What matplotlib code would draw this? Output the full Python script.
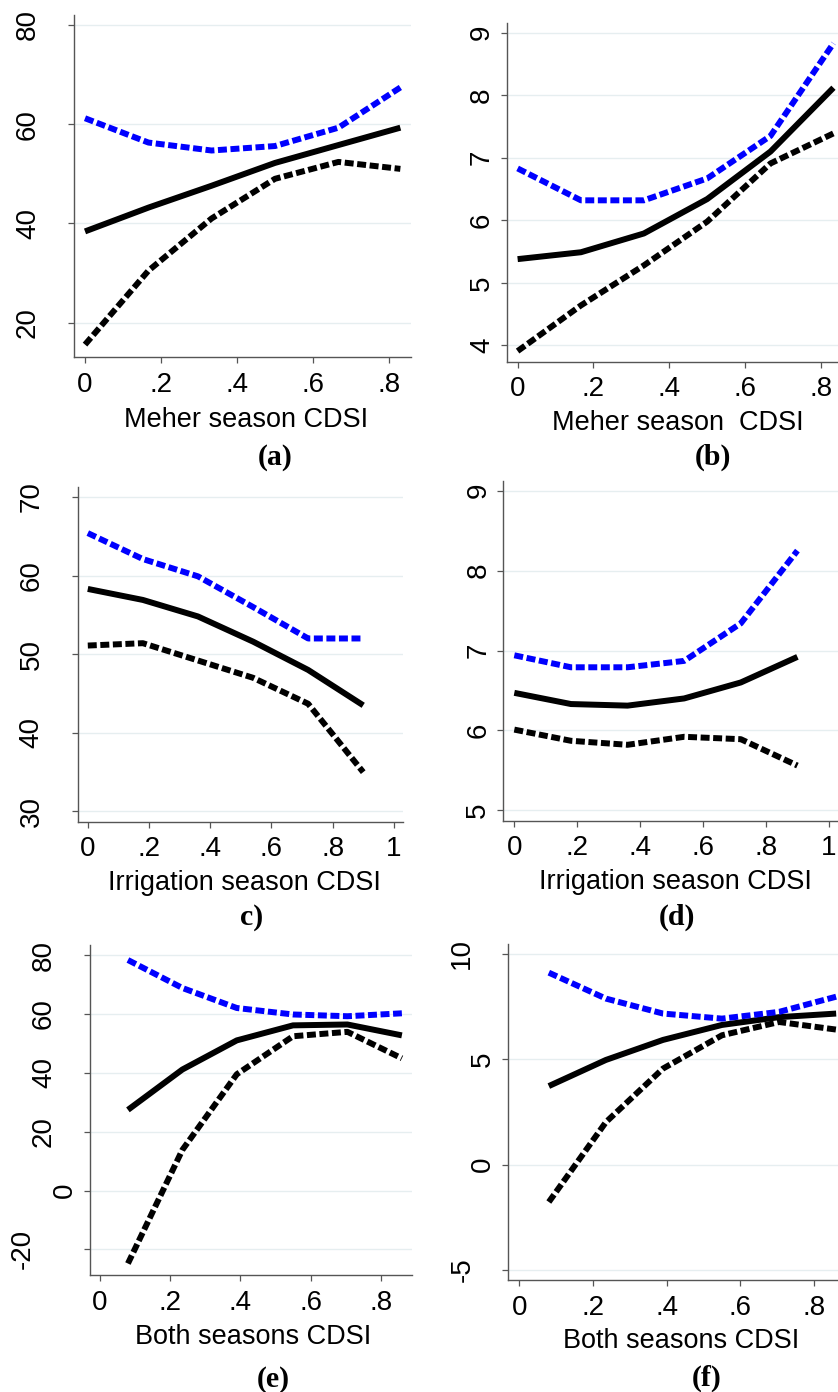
import matplotlib
matplotlib.use("Agg")
import matplotlib.pyplot as plt
import matplotlib.transforms as mtransforms

plt.rcParams['font.family'] = ['Liberation Sans', 'DejaVu Sans']

# values: upper CI (blue), fitted, lower CI
xa = [0, 0.167, 0.333, 0.5, 0.667, 0.83]
a_upper = [61.2, 56.3, 54.7, 55.6, 59.3, 67.4]
a_fit = [38.4, 43.2, 47.6, 52.2, 55.8, 59.3]
a_lower = [15.6, 30.5, 41.0, 49.0, 52.4, 51.0]

xb = [0, 0.167, 0.333, 0.5, 0.667, 0.833]
b_upper = [6.83, 6.32, 6.32, 6.67, 7.35, 8.83]
b_fit = [5.38, 5.49, 5.79, 6.34, 7.10, 8.12]
b_lower = [3.91, 4.64, 5.28, 5.98, 6.91, 7.39]

xc = [0, 0.18, 0.36, 0.54, 0.72, 0.9]
c_upper = [65.4, 62.1, 59.9, 56.0, 52.0, 52.0]
c_fit = [58.3, 56.9, 54.8, 51.6, 48.0, 43.5]
c_lower = [51.1, 51.4, 49.2, 47.0, 43.7, 35.0]

xd = [0, 0.18, 0.36, 0.54, 0.72, 0.9]
d_upper = [6.94, 6.79, 6.79, 6.87, 7.34, 8.25]
d_fit = [6.47, 6.33, 6.31, 6.40, 6.60, 6.92]
d_lower = [6.01, 5.87, 5.82, 5.92, 5.89, 5.56]

xe = [0.08, 0.235, 0.39, 0.55, 0.705, 0.86]
e_upper = [78.3, 68.8, 62.0, 59.8, 59.2, 60.2]
e_fit = [27.4, 41.1, 51.0, 56.1, 56.4, 52.7]
e_lower = [-24.8, 13.8, 39.5, 52.4, 53.9, 44.9]

xf = [0.08, 0.235, 0.39, 0.55, 0.705, 0.86]
f_upper = [9.11, 7.88, 7.17, 6.93, 7.25, 7.97]
f_fit = [3.73, 4.97, 5.92, 6.63, 7.00, 7.17]
f_lower = [-1.77, 2.02, 4.56, 6.14, 6.77, 6.41]

xlabels = ["Meher season CDSI", "Meher season  CDSI",
           "Irrigation season CDSI", "Irrigation season CDSI",
           "Both seasons CDSI", "Both seasons CDSI"]
letters = ["(a)", "(b)", "c)", "(d)", "(e)", "(f)"]

x_ticks_08 = [0, 0.2, 0.4, 0.6, 0.8]
x_ticks_1 = [0, 0.2, 0.4, 0.6, 0.8, 1]
x_labels_08 = ["0", ".2", ".4", ".6", ".8"]
x_labels_1 = ["0", ".2", ".4", ".6", ".8", "1"]

W, H = 838, 1392
fig = plt.figure(figsize=(W / 100, H / 100), dpi=100)

def px_axes(l, t, r, b):
    # box given in pixels from top-left of the picture
    return fig.add_axes([l / W, 1 - b / H, (r - l) / W, (b - t) / H])

def panel(ax, x, up, fit, lo, xlim, ylim, yticks, xticks, xtlabels):
    dash = (1.5, 0.6)
    ax.plot(x, lo, color='black', lw=4.3, dashes=dash, solid_capstyle='butt', dash_capstyle='butt')
    ax.plot(x, fit, color='black', lw=4.3, solid_capstyle='butt')
    ax.plot(x, up, color='#0000ff', lw=4.3, dashes=dash, dash_capstyle='butt')
    ax.set_xlim(*xlim)
    ax.set_ylim(*ylim)
    ax.set_xticks(xticks)
    ax.set_xticklabels(xtlabels)
    ax.set_yticks(yticks)
    ax.tick_params(axis='y', labelleft=False)
    ax.tick_params(length=4.5, width=0.9, color='#555555')
    ax.tick_params(axis='x', labelsize=20, pad=6)
    ax.grid(axis='y', color='#e6eef0', lw=1.0)
    ax.set_axisbelow(True)
    for s in ['top', 'right']:
        ax.spines[s].set_visible(False)
    for s in ['left', 'bottom']:
        ax.spines[s].set_color('#555555')
        ax.spines[s].set_linewidth(1.0)
    # rotated y labels, Stata style: longer labels sit further out
    for v in yticks:
        txt = str(v)
        off = 4 + 21 * len(txt)
        tr = mtransforms.offset_copy(ax.get_yaxis_transform(), fig=fig, x=-off, units='dots')
        ax.text(0, v, txt, rotation=90, ha='center', va='center', fontsize=20, transform=tr)

ax_a = px_axes(74, 15, 411, 357)
panel(ax_a, xa, a_upper, a_fit, a_lower, (-0.029, 0.858), (13.1, 82), [20, 40, 60, 80], x_ticks_08, x_labels_08)

ax_b = px_axes(507, 23, 838, 361.7)
panel(ax_b, xb, b_upper, b_fit, b_lower, (-0.028, 0.845), (3.74, 9.155), [4, 5, 6, 7, 8, 9], x_ticks_08, x_labels_08)

ax_c = px_axes(77.7, 486.7, 403.3, 821.7)
panel(ax_c, xc, c_upper, c_fit, c_lower, (-0.033, 1.031), (28.7, 71.3), [30, 40, 50, 60, 70], x_ticks_1, x_labels_1)

ax_d = px_axes(503.3, 480.7, 838, 820.7)
panel(ax_d, xd, d_upper, d_fit, d_lower, (-0.035, 1.029), (4.87, 9.125), [5, 6, 7, 8, 9], x_ticks_1, x_labels_1)

ax_e = px_axes(90, 945, 411.7, 1275)
panel(ax_e, xe, e_upper, e_fit, e_lower, (-0.028, 0.888), (-28.7, 83.4), [-20, 0, 20, 40, 60, 80], x_ticks_08, x_labels_08)

ax_f = px_axes(508.3, 944, 838, 1280)
panel(ax_f, xf, f_upper, f_fit, f_lower, (-0.03, 0.865), (-5.47, 10.47), [-5, 0, 5, 10], x_ticks_08, x_labels_08)

# axis titles and panel letters, pixel positions (x centre, baseline)
xlab_pos = [(246, 427), (678, 430), (244, 890), (675, 889), (253, 1344), (681, 1348)]
letter_pos = [(275, 465), (713, 465), (252, 925), (677, 925), (273, 1387), (707, 1386)]
for txt, (x, y) in zip(xlabels, xlab_pos):
    fig.text(x / W, 1 - y / H, txt, ha='center', va='baseline', fontsize=19.5)
for txt, (x, y) in zip(letters, letter_pos):
    fig.text(x / W, 1 - y / H, txt, ha='center', va='baseline', fontsize=21.5,
             fontweight='bold', family=['Liberation Serif', 'DejaVu Serif'])

fig.savefig("out.png", dpi=100)
